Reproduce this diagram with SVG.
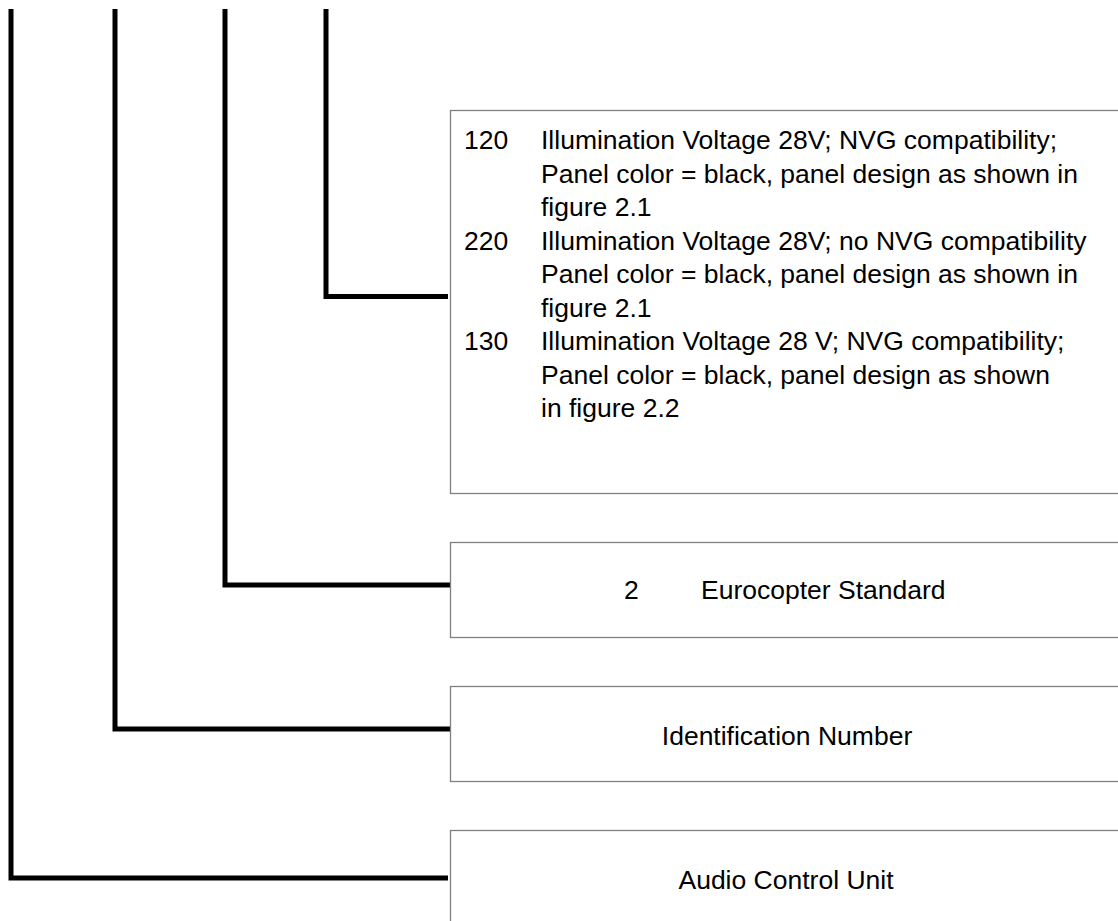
<svg xmlns="http://www.w3.org/2000/svg" width="1118" height="921" viewBox="0 0 1118 921">
<style>
.box{fill:#fff;stroke:#808080;stroke-width:1.3}
.conn{fill:none;stroke:#000;stroke-width:5;stroke-linejoin:miter;stroke-linecap:butt}
text{font-family:"Liberation Sans",Arial,sans-serif;font-size:26.5px;fill:#000}
</style>
<rect width="1118" height="921" fill="#fff"/>
<g id="connectors">
<path class="conn" d="M11,9 V878 H448"/>
<path class="conn" d="M115,9 V729 H450"/>
<path class="conn" d="M225,9 V585 H450"/>
<path class="conn" d="M326,9 V296.5 H448"/>
</g>
<g id="node-variant">
<rect class="box" x="450.5" y="110.5" width="670" height="383"/>
<text x="464" y="149">120</text>
<text x="541" y="149">Illumination Voltage 28V; NVG compatibility;</text>
<text x="541" y="182.5">Panel color = black, panel design as shown in</text>
<text x="541" y="216">figure 2.1</text>
<text x="464" y="249.5">220</text>
<text x="541" y="249.5">Illumination Voltage 28V; no NVG compatibility</text>
<text x="541" y="283">Panel color = black, panel design as shown in</text>
<text x="541" y="316.5">figure 2.1</text>
<text x="464" y="350">130</text>
<text x="541" y="350">Illumination Voltage 28 V; NVG compatibility;</text>
<text x="541" y="383.5">Panel color = black, panel design as shown</text>
<text x="541" y="417">in figure 2.2</text>
</g>
<g id="node-standard">
<rect class="box" x="450.5" y="542.5" width="670" height="95"/>
<text x="624" y="599">2</text>
<text x="701" y="599">Eurocopter Standard</text>
</g>
<g id="node-id">
<rect class="box" x="450.5" y="686.5" width="670" height="95"/>
<text x="787" y="745" text-anchor="middle">Identification Number</text>
</g>
<g id="node-acu">
<rect class="box" x="450.5" y="830.5" width="670" height="100"/>
<text x="786" y="889" text-anchor="middle">Audio Control Unit</text>
</g>
</svg>
